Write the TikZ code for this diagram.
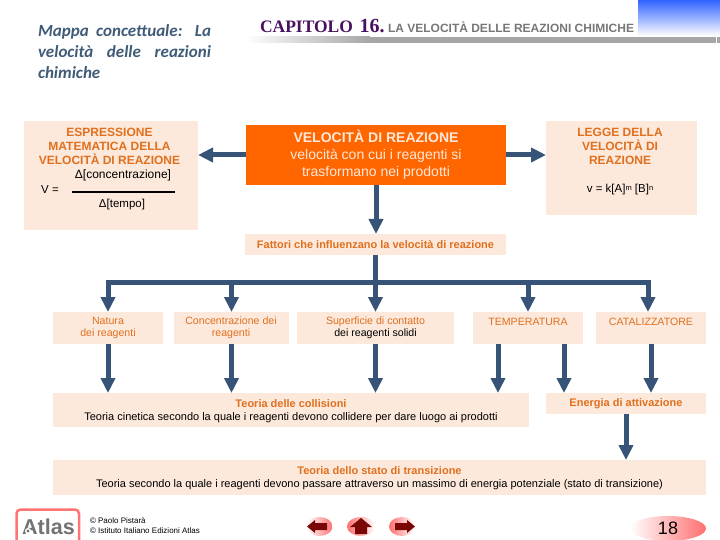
\documentclass[tikz,border=0pt]{standalone}
\usepackage{fontspec}
\setmainfont{Liberation Sans}
\newfontfamily\titlefont{Carlito}
\newfontfamily\chapfont{Liberation Serif}
\usepackage{xcolor}
\usetikzlibrary{arrows.meta, positioning, shapes.geometric}
\definecolor{cHead}{HTML}{E0701E}
\definecolor{cFill}{HTML}{FCE9DC}
\definecolor{cMain}{HTML}{FF6600}
\definecolor{cArrow}{HTML}{375377}
\definecolor{cTitle}{HTML}{3F5B78}
\definecolor{cChap}{HTML}{4A1060}
\definecolor{cGrey}{HTML}{777777}
\definecolor{cBand}{HTML}{A6A6A6}
\definecolor{cBlue}{HTML}{3063FF}
\definecolor{cPink}{HTML}{FF6F6F}
\definecolor{cDark}{HTML}{7A0606}
\newcommand{\fsz}[2]{\fontsize{#1}{#2}\selectfont}

\begin{document}
\begin{tikzpicture}[x=1pt, y=-1pt, every node/.style={inner sep=0pt, outer sep=0pt},
  box/.style={fill=cFill, minimum width=#1},
  head/.style={font=\fsz{12}{14}\bfseries, text=cHead, align=center},
  small/.style={font=\fsz{10.6}{11.5}, text=cHead, align=center},
  theory/.style={font=\fsz{11}{13}, align=center},
  arr/.style={cArrow, line width=5pt, -{Triangle[length=15pt, width=14pt]}},
  bus/.style={cArrow, line width=5pt},
  btn/.style={draw=none, ellipse, minimum height=19pt}]
  \useasboundingbox (0,0) rectangle (720,540);
  % header
  \shade[top color=cBlue, bottom color=white] (638,0) rectangle (720,36);
  \shade[left color=white, right color=cBand] (245,37) rectangle (370,43);
  \fill[cBand] (370,37) rectangle (715.5,43);
  \fill[cBand] (716.5,37) rectangle (720,43);
  \node[anchor=north west, text width=173pt, align=justify, text=cTitle, font=\titlefont\fsz{17}{21}\bfseries\itshape] (maptitle) at (38,24.5) {Mappa concettuale: La velocità delle reazioni chimiche};
  \node[anchor=base west, font=\chapfont\bfseries\fsz{17.5}{20}, text=cChap] (chap) at (260,33) {CAPITOLO};
  \node[anchor=base west, font=\chapfont\bfseries\fsz{20}{20}, text=cChap] (chapnum) at (359.5,33) {16.};
  \node[anchor=base west, font=\fsz{12}{13}\bfseries, text=cGrey] (chapname) at (388,33) {LA VELOCITÀ DELLE REAZIONI CHIMICHE};
  % boxes
  \node[box=174pt, minimum height=109pt] (expr) at (111,175.5) {};
  \node[fill=cMain, minimum width=260pt, minimum height=60pt] (rate) at (376,155) {};
  \node[box=151pt, minimum height=94pt] (law) at (621.5,168) {};
  \node[box=261pt, minimum height=21pt, head, font=\fsz{11}{13}\bfseries] (factors) at (375.5,244.5) {Fattori che influenzano la velocità di reazione};
  \node[box=110pt, minimum height=32pt] (nature) at (108,328) {};
  \node[box=115pt, minimum height=32pt] (conc) at (231.5,328) {};
  \node[box=157pt, minimum height=32pt] (surf) at (375.5,328) {};
  \node[box=110pt, minimum height=32pt] (temp) at (528,328) {};
  \node[box=110pt, minimum height=32pt] (cat) at (651,328) {};
  \node[box=476pt, minimum height=34pt] (coll) at (291,410) {};
  \node[box=160pt, minimum height=21pt, head, font=\fsz{11}{13}\bfseries] (energy) at (626,403.5) {Energia di attivazione};
  \node[box=653pt, minimum height=35pt] (trans) at (379.5,477.5) {};
  % texts
  \node[head] (exprhead) at (109.5,146) {ESPRESSIONE\\MATEMATICA DELLA\\VELOCITÀ DI REAZIONE};
  \node[font=\fsz{12}{13}] (fracnum) at (123,175.5) {Δ[concentrazione]};
  \node[font=\fsz{11.5}{13}] (fraceq) at (50,190) {V =};
  \node[font=\fsz{11.5}{13}] (fracden) at (122,204.5) {Δ[tempo]};
  \node[align=center, text=white!85!cMain, font=\fsz{14}{17}] (ratetxt) at (376,155) {{\bfseries\fsz{14}{17}VELOCITÀ DI REAZIONE}\\velocità con cui i reagenti si\\trasformano nei prodotti};
  \node[head] (lawhead) at (620,146) {LEGGE DELLA\\VELOCITÀ DI\\REAZIONE};
  \node[font=\fsz{11.5}{12}] (lawtxt) at (620,190) {v = k[A]\raisebox{2pt}{\fsz{7.5}{7}m} [B]\raisebox{2pt}{\fsz{7.5}{7}n}};
  \node[small] (naturetxt) at (108,328) {Natura\\dei reagenti};
  \node[small] (conctxt) at (231,328) {Concentrazione dei\\reagenti};
  \node[small] (surftxt) at (375.5,328) {Superficie di contatto\\\textcolor{black}{dei reagenti solidi}};
  \node[small] (temptxt) at (528,322) {TEMPERATURA};
  \node[small] (cattxt) at (651,322) {CATALIZZATORE};
  \node[theory] (colltxt) at (291,411.5) {\textcolor{cHead}{\bfseries Teoria delle collisioni}\\Teoria cinetica secondo la quale i reagenti devono collidere per dare luogo ai prodotti};
  \node[theory] (transtxt) at (379.5,478.5) {\textcolor{cHead}{\bfseries Teoria dello stato di transizione}\\Teoria secondo la quale i reagenti devono passare attraverso un massimo di energia potenziale (stato di transizione)};
  % connectors
  \coordinate (fracl) at (72,192);
  \coordinate (fracr) at (175,192);
  \draw[line width=1.5pt] (fracl) -- (fracr);
  \coordinate (busl) at (108,282.5);
  \coordinate (busr) at (648,282.5);
  \draw[arr] (rate.west) -- (rate.west -| expr.east);
  \draw[arr] (rate.east) -- (rate.east -| law.west);
  \draw[arr] (rate.south) -- (rate.south |- factors.north);
  \draw[bus] (factors.south) -- (factors.south |- busl);
  \draw[bus] ([xshift=-2.5pt]busl) -- ([xshift=2.5pt]busr);
  \foreach \n in {nature,conc,surf,temp} {
    \draw[arr] (\n.north |- busl) -- (\n.north);
  }
  \draw[arr] (busr) -- (busr |- cat.north);
  \foreach \n in {nature,conc,surf} {
    \draw[arr] (\n.south) -- (\n.south |- coll.north);
  }
  \draw[arr] ([xshift=-30pt]temp.south) -- ([xshift=-30pt]temp.south |- coll.north);
  \draw[arr] ([xshift=36pt]temp.south) -- ([xshift=36pt]temp.south |- energy.north);
  \draw[arr] (cat.south) -- (cat.south |- energy.north);
  \draw[arr] (energy.south) -- (energy.south |- trans.north);
  % footer
  \draw[draw=red!55!white, line width=2.5pt, rounded corners=4pt, fill=white] (16.5,509.5) rectangle (79,548);
  \node[font=\fsz{21.5}{22}\bfseries, text=black!55] (logo) at (48.5,527) {Atlas};
  \fill[white] (28,531) circle (3pt);
  \fill[black!55] (28,531) circle (1.6pt);
  \node[anchor=west, align=left, font=\fsz{8}{10}] (copyright) at (90,526) {© Paolo Pistarà\\© Istituto Italiano Edizioni Atlas};
  \node[btn, minimum width=26pt, left color=white, right color=cPink] (prev) at (319.5,526.5) {};
  \node[btn, minimum width=28pt, left color=cPink, right color=white] (home) at (361,526.5) {};
  \node[btn, minimum width=26pt, left color=cPink, right color=white] (next) at (402,526.5) {};
  \fill[cDark] (307,526.5) -- (315,520) -- (315,523) -- (327,523) -- (327,530) -- (315,530) -- (315,533) -- cycle;
  \fill[cDark] (361,518) -- (372,527) -- (367,527) -- (367,534) -- (355,534) -- (355,527) -- (350,527) -- cycle;
  \fill[cDark] (415,526.5) -- (407,520) -- (407,523) -- (395,523) -- (395,530) -- (407,530) -- (407,533) -- cycle;
  \node[ellipse, minimum width=76pt, minimum height=25pt, left color=white, right color=cPink, font=\fsz{18}{18}] (page) at (668,528.5) {18};
\end{tikzpicture}
\end{document}
